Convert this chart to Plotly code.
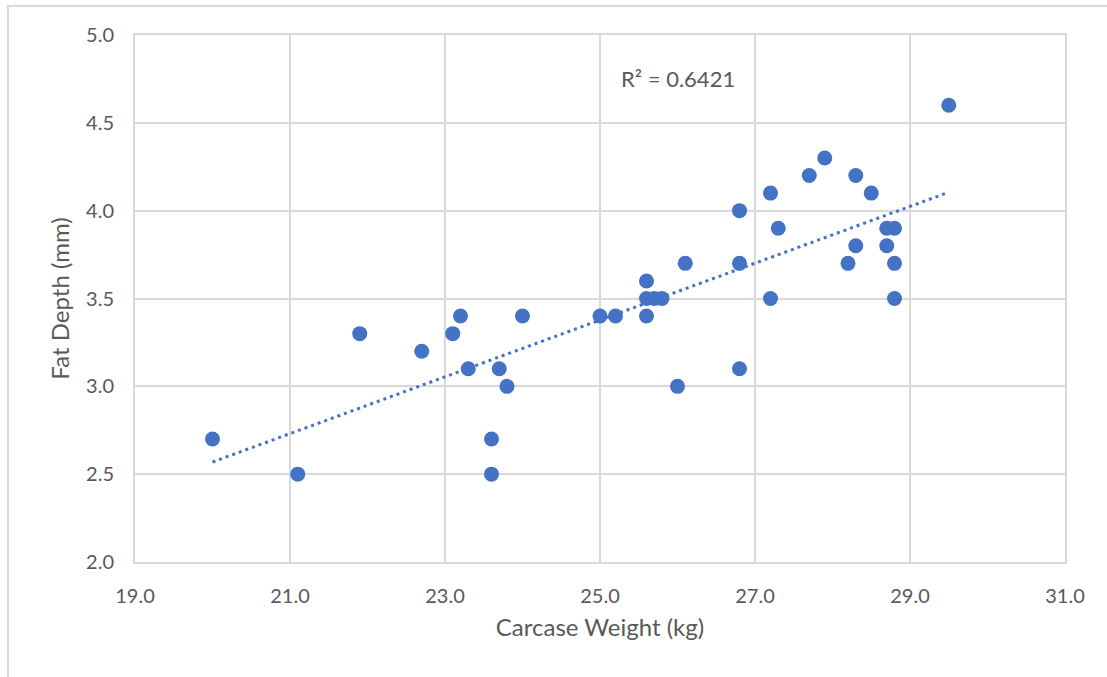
import numpy as np
import plotly.graph_objects as go

# Carcase weight (kg) and fat depth (mm) per carcase
carcase_weight = [20.0, 21.1, 21.9, 22.7, 23.1, 23.2, 23.3, 23.6, 23.6, 23.7,
                  23.8, 24.0, 25.0, 25.2, 25.6, 25.6, 25.6, 25.7, 25.8, 26.0,
                  26.1, 26.8, 26.8, 26.8, 27.2, 27.2, 27.3, 27.7, 27.9, 28.2,
                  28.3, 28.3, 28.5, 28.7, 28.7, 28.8, 28.8, 28.8, 29.5]
fat_depth = [2.7, 2.5, 3.3, 3.2, 3.3, 3.4, 3.1, 2.7, 2.5, 3.1,
             3.0, 3.4, 3.4, 3.4, 3.6, 3.5, 3.4, 3.5, 3.5, 3.0,
             3.7, 4.0, 3.7, 3.1, 4.1, 3.5, 3.9, 4.2, 4.3, 3.7,
             4.2, 3.8, 4.1, 3.9, 3.8, 3.9, 3.7, 3.5, 4.6]
r2_label = "R² = 0.6421"

x_ticks = [19.0, 21.0, 23.0, 25.0, 27.0, 29.0, 31.0]
y_ticks = [2.0, 2.5, 3.0, 3.5, 4.0, 4.5, 5.0]

BLUE = "#4472C4"
GRID = "#d9d9d9"
TEXT = "#595959"
FONT = "Lato, Calibri, Carlito, sans-serif"

# Linear trendline fitted to the data
x_arr = np.array(carcase_weight)
y_arr = np.array(fat_depth)
slope, intercept = np.polyfit(x_arr, y_arr, 1)
trend_x = np.array([x_arr.min(), x_arr.max()])
trend_y = slope * trend_x + intercept

fig = go.Figure()
fig.add_trace(go.Scatter(
    x=trend_x, y=trend_y, mode="lines",
    line=dict(color=BLUE, width=3, dash="3px,4px"),
    hoverinfo="skip", showlegend=False,
))
fig.add_trace(go.Scatter(
    x=carcase_weight, y=fat_depth, mode="markers",
    marker=dict(color=BLUE, size=15, line=dict(width=0)),
    showlegend=False,
))

fig.add_annotation(
    x=26.0, y=4.755, xref="x", yref="y", text=r2_label, showarrow=False,
    font=dict(family=FONT, size=22, color=TEXT),
)

# Outer chart frame
fig.add_shape(
    type="rect", xref="paper", yref="paper",
    x0=-0.1366, x1=1.2, y0=-0.4, y1=1.055,
    line=dict(color=GRID, width=2), fillcolor="rgba(0,0,0,0)", layer="below",
)

axis_common = dict(
    showgrid=True, gridcolor=GRID, gridwidth=2,
    showline=True, linecolor=GRID, linewidth=2, mirror=True,
    zeroline=False, ticks="",
    tickfont=dict(family=FONT, size=20, color=TEXT),
    ticklabelstandoff=15,
)

fig.update_layout(
    width=1107, height=677,
    margin=dict(l=135, r=42, t=35, b=115),
    paper_bgcolor="white", plot_bgcolor="white",
    xaxis=dict(
        range=[19, 31], tickvals=x_ticks,
        ticktext=[f"{v:.1f}" for v in x_ticks],
        title=dict(text="Carcase Weight (kg)", standoff=13,
                   font=dict(family=FONT, size=24, color=TEXT)),
        **axis_common,
    ),
    yaxis=dict(
        range=[2, 5], tickvals=y_ticks,
        ticktext=[f"{v:.1f}" for v in y_ticks],
        title=dict(text="Fat Depth (mm)", standoff=10,
                   font=dict(family=FONT, size=24, color=TEXT)),
        **axis_common,
    ),
)

fig.write_html("out.html")
